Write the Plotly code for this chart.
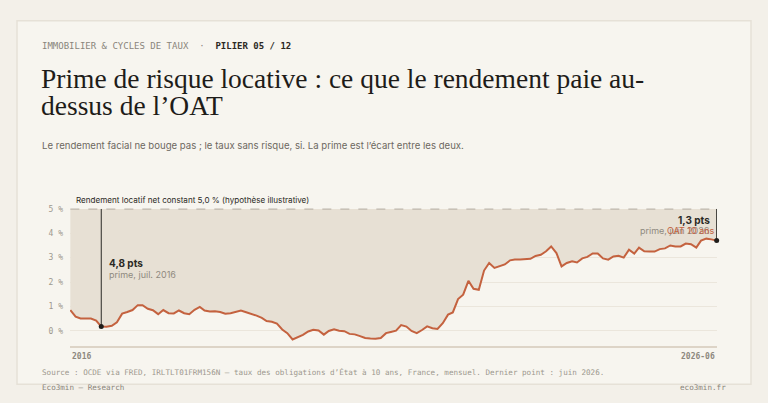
import pandas as pd
import plotly.graph_objects as go

# OAT 10 ans (France), moyenne mensuelle, jan. 2016 -> juin 2026, en %
oat_2016 = [0.85, 0.58, 0.50, 0.50, 0.50, 0.42, 0.17, 0.16, 0.20, 0.35, 0.70, 0.77]
oat_2017 = [0.85, 1.05, 1.05, 0.90, 0.84, 0.68, 0.85, 0.72, 0.71, 0.83, 0.72, 0.68]
oat_2018 = [0.86, 0.98, 0.83, 0.79, 0.80, 0.77, 0.70, 0.72, 0.78, 0.83, 0.76, 0.70]
oat_2019 = [0.62, 0.53, 0.40, 0.37, 0.29, 0.05, -0.10, -0.36, -0.28, -0.17, -0.03, 0.04]
oat_2020 = [0.01, -0.16, -0.01, 0.06, 0.00, -0.02, -0.13, -0.15, -0.22, -0.30, -0.32, -0.33]
oat_2021 = [-0.30, -0.10, -0.05, 0.00, 0.23, 0.17, -0.01, -0.10, 0.03, 0.18, 0.10, 0.07]
oat_2022 = [0.31, 0.66, 0.75, 1.30, 1.48, 2.05, 1.72, 1.68, 2.47, 2.78, 2.58, 2.66]
oat_2023 = [2.72, 2.89, 2.92, 2.92, 2.95, 2.95, 3.07, 3.12, 3.26, 3.46, 3.19, 2.64]
oat_2024 = [2.78, 2.85, 2.80, 2.97, 3.03, 3.17, 3.17, 2.97, 2.92, 3.05, 3.08, 3.00]
oat_2025 = [3.33, 3.17, 3.41, 3.26, 3.25, 3.25, 3.35, 3.38, 3.50, 3.46, 3.46, 3.58]
oat_2026 = [3.55, 3.41, 3.70, 3.78, 3.75, 3.70]

oat = oat_2016 + oat_2017 + oat_2018 + oat_2019 + oat_2020 + oat_2021 + oat_2022 + oat_2023 + oat_2024 + oat_2025 + oat_2026
months = pd.date_range("2016-01-01", periods=len(oat), freq="MS")

RENDEMENT = 5.0  # rendement locatif net, hypothese
rendement = [RENDEMENT] * len(oat)

y_ticks = [0, 1, 2, 3, 4, 5]
y_tick_labels = ["0 %", "1 %", "2 %", "3 %", "4 %", "5 %"]

W, H = 768, 403
OUTER = "#f3f0e9"
CARD = "#f7f5ef"
LINE = "#c4623f"
FILL = "#e7e0d4"
MONO = "DejaVu Sans Mono"
SANS = "Inter"
SERIF = "Liberation Serif"


def px(x):
    return x / W


def py(y):
    return 1 - y / H


def fr(v):
    return f"{v:.1f}".replace(".", ",")


i_jul16 = list(months).index(pd.Timestamp("2016-07-01"))
i_last = len(oat) - 1

fig = go.Figure()

# 5% line, then OAT filled up to it
fig.add_trace(go.Scatter(x=months, y=rendement, mode="lines",
                         line=dict(color="#a9a297", width=1.2, dash="dash"),
                         hoverinfo="skip"))
fig.add_trace(go.Scatter(x=months, y=oat, mode="lines", fill="tonexty",
                         fillcolor=FILL, line=dict(color=LINE, width=2)))

# vertical prime markers
for i in [i_jul16, i_last]:
    fig.add_trace(go.Scatter(x=[months[i], months[i]], y=[oat[i], RENDEMENT], mode="lines",
                             line=dict(color="#2a2824", width=1), hoverinfo="skip"))
    fig.add_trace(go.Scatter(x=[months[i]], y=[oat[i]], mode="markers", cliponaxis=False,
                             marker=dict(color="#1f1d1a", size=5), hoverinfo="skip"))

fig.update_layout(
    width=W, height=H,
    margin=dict(l=0, r=0, t=0, b=0),
    paper_bgcolor=OUTER,
    plot_bgcolor="rgba(0,0,0,0)",
    showlegend=False,
    xaxis=dict(domain=[px(70), px(717)],
               range=[pd.Timestamp("2015-12-30"), pd.Timestamp("2026-06-03")],
               showgrid=False, zeroline=False, showticklabels=False,
               showline=True, linecolor="#ddd4c7", linewidth=1.5),
    yaxis=dict(domain=[py(345), py(206.5)], range=[-0.61, 5.02],
               tickvals=y_ticks, ticktext=y_tick_labels,
               tickfont=dict(family=MONO, size=8, color="#9d988e"),
               ticklabelstandoff=6,
               showgrid=True, gridcolor="#ebe6dc", gridwidth=1, zeroline=False),
)

# card
fig.add_shape(type="rect", xref="paper", yref="paper",
              x0=px(17), x1=px(751), y0=py(384), y1=py(17),
              fillcolor=CARD, line=dict(color="#e6e1d7", width=1.5), layer="below")

ann = []
ann.append(dict(x=px(40), y=py(42),
                text="IMMOBILIER &amp; CYCLES DE TAUX  \u00b7  <b style='color:#2b2924'>PILIER 05 / 12</b>",
                font=dict(family=MONO, size=9, color="#8a857b")))
ann.append(dict(x=px(39), y=py(75), text="Prime de risque locative : ce que le rendement paie au-",
                font=dict(family=SERIF, size=27.5, color="#1e1c19")))
ann.append(dict(x=px(39), y=py(103), text="dessus de l\u2019OAT",
                font=dict(family=SERIF, size=27.5, color="#1e1c19")))
ann.append(dict(x=px(40), y=py(143),
                text="Le rendement facial ne bouge pas ; le taux sans risque, si. La prime est l\u2019\u00e9cart entre les deux.",
                font=dict(family=SANS, size=9.6, color="#6d685f")))
ann.append(dict(x=px(74), y=py(198),
                text=f"Rendement locatif net constant {fr(RENDEMENT)} % (hypoth\u00e8se illustrative)",
                font=dict(family=SANS, size=8.1, color="#2b2924")))
ann.append(dict(x=px(70), y=py(356), text="<b>2016</b>",
                font=dict(family=MONO, size=8, color="#8d887e")))
ann.append(dict(x=px(717), y=py(356), text="<b>2026-06</b>", xanchor="right",
                font=dict(family=MONO, size=8, color="#8d887e")))
ann.append(dict(x=px(40), y=py(372),
                text="Source : OCDE via FRED, IRLTLT01FRM156N \u2014 taux des obligations d\u2019\u00c9tat \u00e0 10 ans, France, mensuel. Dernier point : juin 2026.",
                font=dict(family=MONO, size=7.6, color="#9d988e")))
ann.append(dict(x=px(40), y=py(387), text="Eco3min \u2014 Research",
                font=dict(family=MONO, size=7.6, color="#8a857b")))
ann.append(dict(x=px(728), y=py(387), text="eco3min.fr", xanchor="right",
                font=dict(family=MONO, size=7.6, color="#8a857b")))

# prime labels
ann.append(dict(x=px(107), y=py(262), text=f"<b>{fr(RENDEMENT - oat[i_jul16])} pts</b>",
                font=dict(family=SANS, size=10, color="#2b2924")))
ann.append(dict(x=px(107), y=py(273), text="prime, juil. 2016",
                font=dict(family=SANS, size=9, color="#8f8a80")))
ann.append(dict(x=px(712), y=py(218), text=f"<b>{fr(RENDEMENT - oat[i_last])} pts</b>", xanchor="right",
                font=dict(family=SANS, size=10, color="#2b2924")))
ann.append(dict(x=px(712), y=py(229), text="prime, juin 2026", xanchor="right",
                font=dict(family=SANS, size=9, color="#8f8a80")))
ann.append(dict(x=px(717), y=py(229), text="OAT 10 ans", xanchor="right",
                font=dict(family=SANS, size=9, color=LINE)))

for a in ann:
    a.setdefault("xanchor", "left")
    a.update(xref="paper", yref="paper", yanchor="middle", showarrow=False)
    fig.add_annotation(**a)

# page has a default 8px body margin: remove it so the figure fills the window
fig.write_html("out.html", config={"displayModeBar": False},
               post_script="document.body.style.margin='0';document.body.style.background='" + OUTER + "';")
